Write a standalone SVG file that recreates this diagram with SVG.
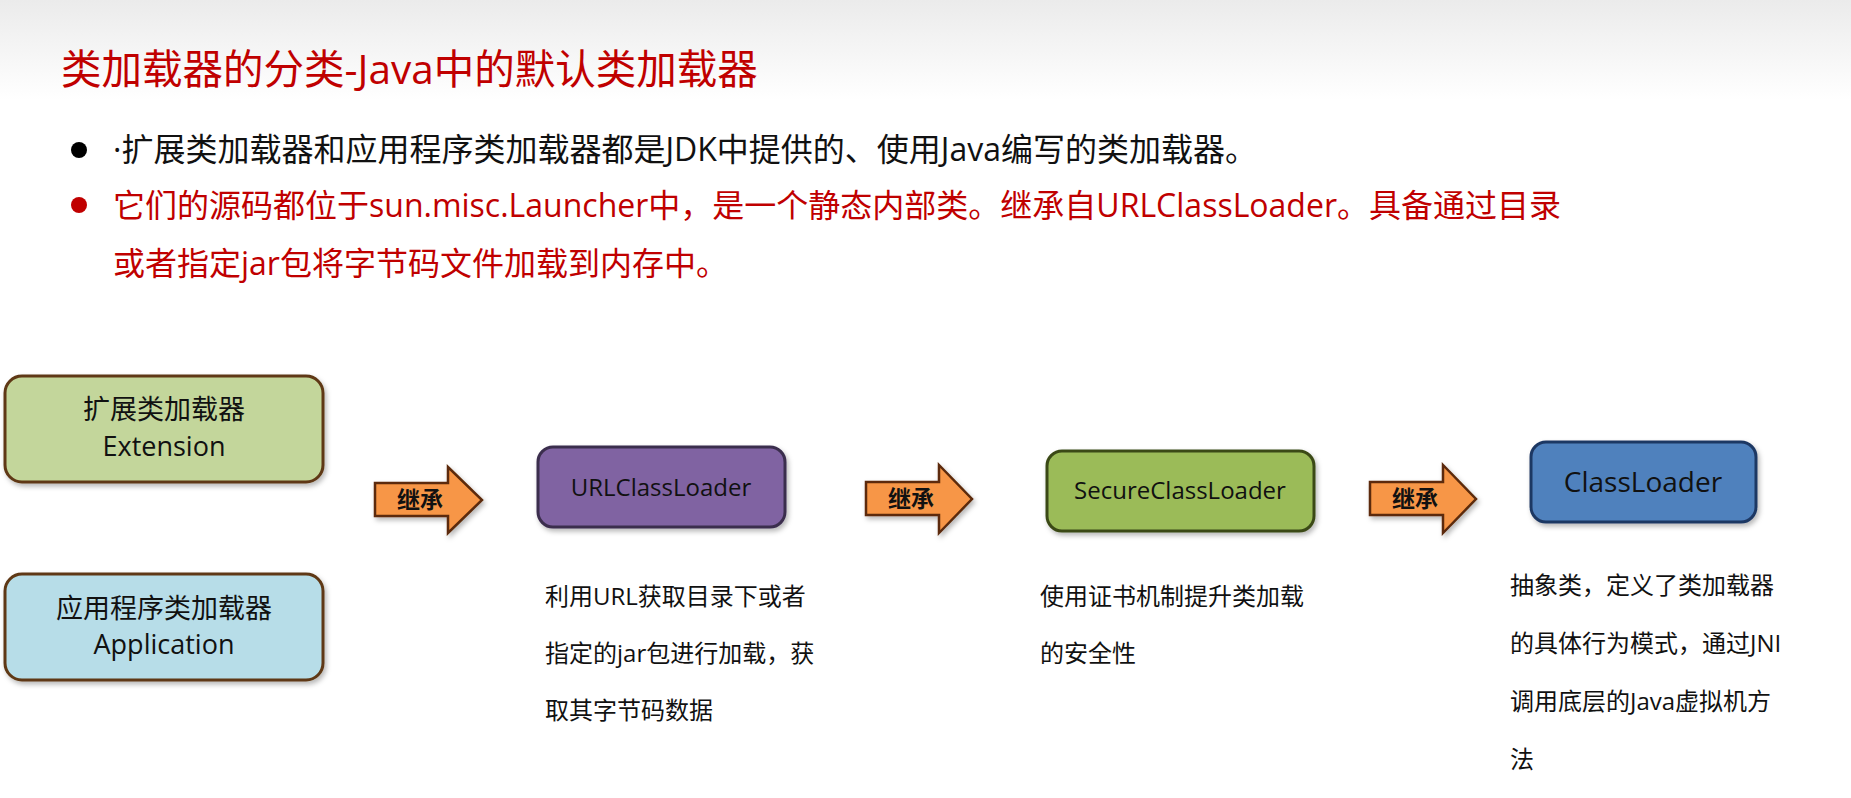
<svg xmlns="http://www.w3.org/2000/svg" width="1851" height="798" viewBox="0 0 1851 798">
  <defs>
    <linearGradient id="topfade" x1="0" y1="0" x2="0" y2="1">
      <stop offset="0" stop-color="#ebebeb"/>
      <stop offset="1" stop-color="#ffffff"/>
    </linearGradient>
    <filter id="shadow" x="-10%" y="-10%" width="130%" height="140%">
      <feDropShadow dx="2" dy="3" stdDeviation="2.5" flood-color="#000" flood-opacity="0.28"/>
    </filter>
    <style>
      .t { font-family: "Open Sans", "Noto Sans CJK SC", sans-serif; }
      .title { font-size: 40.5px; fill: #c00000; }
      .b1 { font-size: 32px; fill: #111; }
      .b2 { font-size: 32px; fill: #c00000; }
      .boxlbl { font-size: 27px; fill: #111; text-anchor: middle; }
      .cls { font-size: 24px; fill: #111; text-anchor: middle; }
      .desc { font-size: 24px; fill: #111; }
      .arrow { fill: #f79646; stroke: #5c2a08; stroke-width: 2.5; stroke-linejoin: miter; filter: url(#shadow); }
      .arrowlbl { font-size: 23px; font-weight: bold; fill: #111; text-anchor: middle; }
      .box { stroke-width: 3; filter: url(#shadow); }
    </style>
  </defs>

  <rect x="0" y="0" width="1851" height="798" fill="#ffffff"/>
  <rect x="0" y="0" width="1851" height="100" fill="url(#topfade)"/>

  <g id="title">
    <text class="t title" x="61" y="84">类加载器的分类-Java中的默认类加载器</text>
  </g>

  <g id="bullets">
    <circle cx="79" cy="150" r="8" fill="#000"/>
    <text class="t b1" x="113" y="161">·扩展类加载器和应用程序类加载器都是JDK中提供的、使用Java编写的类加载器。</text>
    <circle cx="79" cy="205" r="8" fill="#c00000"/>
    <text class="t b2" x="113" y="217">它们的源码都位于sun.misc.Launcher中，是一个静态内部类。继承自URLClassLoader。具备通过目录</text>
    <text class="t b2" x="113" y="275">或者指定jar包将字节码文件加载到内存中。</text>
  </g>

  <g id="node-extension">
    <rect class="box" x="5" y="376" width="318" height="106" rx="17" fill="#c3d69b" stroke="#5e3813"/>
    <text class="t boxlbl" x="164" y="419">扩展类加载器</text>
    <text class="t boxlbl" x="164" y="456">Extension</text>
  </g>

  <g id="node-application">
    <rect class="box" x="5" y="574" width="318" height="106" rx="17" fill="#b7dde8" stroke="#5e3813"/>
    <text class="t boxlbl" x="164" y="618">应用程序类加载器</text>
    <text class="t boxlbl" x="164" y="654">Application</text>
  </g>

  <g id="node-urlclassloader">
    <rect class="box" x="538" y="447" width="247" height="80" rx="15" fill="#8064a2" stroke="#3b2d4e"/>
    <text class="t cls" x="661" y="496">URLClassLoader</text>
    <text class="t desc" x="545" y="605">利用URL获取目录下或者</text>
    <text class="t desc" x="545" y="662">指定的jar包进行加载，获</text>
    <text class="t desc" x="545" y="719">取其字节码数据</text>
  </g>

  <g id="node-secureclassloader">
    <rect class="box" x="1047" y="451" width="267" height="80" rx="15" fill="#9bbb59" stroke="#3a4a16"/>
    <text class="t cls" x="1180" y="499">SecureClassLoader</text>
    <text class="t desc" x="1040" y="605">使用证书机制提升类加载</text>
    <text class="t desc" x="1040" y="662">的安全性</text>
  </g>

  <g id="node-classloader">
    <rect class="box" x="1531" y="442" width="225" height="80" rx="15" fill="#4f81bd" stroke="#1f3763"/>
    <text class="t cls" x="1643" y="492" style="font-size:28px">ClassLoader</text>
    <text class="t desc" x="1510" y="594">抽象类，定义了类加载器</text>
    <text class="t desc" x="1510" y="652">的具体行为模式，通过JNI</text>
    <text class="t desc" x="1510" y="710">调用底层的Java虚拟机方</text>
    <text class="t desc" x="1510" y="768">法</text>
  </g>

  <g id="connectors">
    <g id="arrow-1">
      <path class="arrow" d="M375,483 H448 V467 L482,500 L448,533 V516 H375 Z"/>
      <text class="t arrowlbl" x="420" y="508">继承</text>
    </g>
    <g id="arrow-2">
      <path class="arrow" d="M866,482 H939 V465 L972,499 L939,533 V515 H866 Z"/>
      <text class="t arrowlbl" x="911" y="507">继承</text>
    </g>
    <g id="arrow-3">
      <path class="arrow" d="M1370,482 H1443 V465 L1476,499 L1443,533 V515 H1370 Z"/>
      <text class="t arrowlbl" x="1415" y="507">继承</text>
    </g>
  </g>
</svg>
